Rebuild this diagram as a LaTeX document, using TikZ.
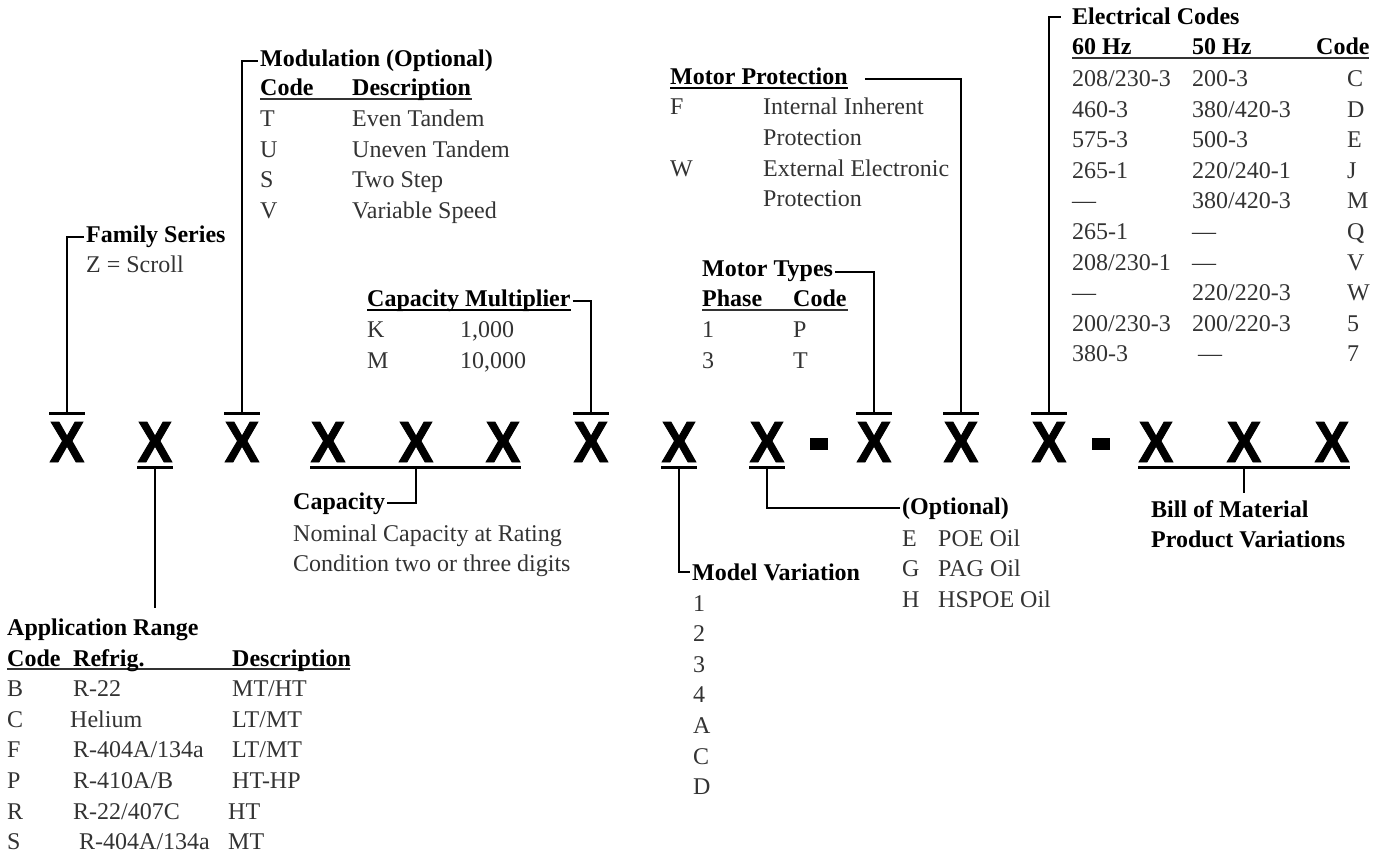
\documentclass[tikz,border=0pt]{standalone}
\usepackage{fontspec}
\setmainfont{Liberation Serif}
\newfontfamily\xfont{Liberation Sans}[BoldFeatures={FakeBold=1.5}]
\usepackage{graphicx}
\usetikzlibrary{positioning}
\definecolor{inkgray}{rgb}{0.2,0.2,0.2}
\newcommand{\hrul}[1]{\leavevmode\rlap{\rule[-4pt]{#1}{1.8pt}}}
\newcommand{\ultext}[1]{\sbox0{#1}\hrul{\wd0}\usebox0}
\newcommand{\hd}[1]{\leavevmode{\bfseries\color{black}#1}}
\tikzset{
  digit/.style={
    inner sep=0pt,
    anchor=base,
    font=\xfont\bfseries\fontsize{58}{58}\selectfont
  },
  head/.style={
    inner sep=2pt,
    anchor=base west,
    font=\bfseries\fontsize{24}{30.6}\selectfont
  },
  tbl/.style={
    inner sep=0pt,
    anchor=base west,
    text=inkgray,
    font=\fontsize{24}{30.6}\selectfont
  },
  lead/.style={line width=2pt},
  bar/.style={line width=3pt}
}

\begin{document}
\begin{tikzpicture}[x=1pt,y=-1pt]
\useasboundingbox (0,0) rectangle (1384,858);
% the model number
\foreach \n/\cx in {1/67,2/155,3/242,4/328,5/416,6/503,7/591,8/679,9/767,
                    10/874,11/961,12/1049,13/1156,14/1244,15/1332}
  \node[digit] (x\n) at (\cx,462) {\scalebox{0.9}[1]{X}};
\node[digit] (d1) at (819,462) {\scalebox{1.15}[1.5]{\raisebox{-3pt}{-}}};
\node[digit] (d2) at (1101,462) {\scalebox{1.15}[1.5]{\raisebox{-3pt}{-}}};
\foreach \n in {1,3,7,10,11,12}
  \draw[bar] ([yshift=8pt]x\n.north west) -- ([yshift=8pt]x\n.north east);
\foreach \n in {2,8,9}
  \draw[bar] ([yshift=-5pt]x\n.south west) -- ([yshift=-5pt]x\n.south east);
\draw[bar] ([yshift=-5pt]x4.south west) -- ([yshift=-5pt]x6.south east);
\draw[bar] ([yshift=-5pt]x13.south west) -- ([yshift=-5pt]x15.south east);

% upper labels
\node[head] (fam) at (84,243) {Family Series};
\node[tbl] (famtab) at (86,273) {Z = Scroll};
\draw[lead] ([yshift=8pt]x1.north) |- (fam.west);

\node[head] (modT) at (258,67) {Modulation (Optional)};
\node[tbl] (modtab) at (260,96) {\begin{tabular}[t]{@{}p{92pt}@{}l@{}}
  \hrul{212pt}\hd{Code} & \hd{Description}\\
  T & Even Tandem\\
  U & Uneven Tandem\\
  S & Two Step\\
  V & Variable Speed
\end{tabular}};
\draw[lead] ([yshift=8pt]x3.north) |- (modT.west);

\node[head] (cmT) at (365,307) {\ultext{Capacity Multiplier}};
\node[tbl] (cmtab) at (367,338) {\begin{tabular}[t]{@{}p{93pt}@{}l@{}}
  K & 1,000\\
  M & 10,000
\end{tabular}};
\draw[lead] (cmT.east) -| ([yshift=8pt]x7.north);

\node[head] (mtT) at (700,277) {Motor Types};
\node[tbl] (mttab) at (702,307) {\begin{tabular}[t]{@{}p{91pt}@{}l@{}}
  \hrul{146pt}\hd{Phase} & \hd{Code}\\
  1 & P\\
  3 & T
\end{tabular}};
\draw[lead] (mtT.east) -| ([yshift=8pt]x10.north);

\node[head] (mpT) at (668,85) {\ultext{Motor Protection}};
\node[tbl] (mptab) at (670,115) {\begin{tabular}[t]{@{}p{93pt}@{}l@{}}
  F & Internal Inherent\\
    & Protection\\
  W & External Electronic\\
    & Protection
\end{tabular}};
\draw[lead] ([xshift=15pt]mpT.east) -| ([yshift=8pt]x11.north);

\node[head] (ecT) at (1070,25) {Electrical Codes};
\node[tbl] (ectab) at (1072,55) {\begin{tabular}[t]{@{}p{120pt}@{}p{155pt}@{}l@{}}
  \hrul{297pt}\hd{60 Hz} & \hd{50 Hz} & \hspace*{-31pt}\hd{Code}\\[1pt]
  208/230-3 & 200-3 & C\\
  460-3 & 380/420-3 & D\\
  575-3 & 500-3 & E\\
  265-1 & 220/240-1 & J\\
  --- & 380/420-3 & M\\
  265-1 & --- & Q\\
  208/230-1 & --- & V\\
  --- & 220/220-3 & W\\
  200/230-3 & 200/220-3 & 5\\
  380-3 & \hspace*{6pt}--- & 7
\end{tabular}};
\draw[lead] ([yshift=8pt]x12.north) |- ([xshift=-9pt]ecT.west);

% lower labels
\node[head] (capT) at (291,509) {Capacity};
\node[tbl] (captab) at (293,541) {\begin{tabular}[t]{@{}l@{}}
  Nominal Capacity at Rating\\
  Condition two or three digits
\end{tabular}};
\draw[lead] ([yshift=-5pt]x5.south) |- (capT.east);

\node[head] (apT) at (5,635) {Application Range};
\node[tbl] (aptab) at (7,666) {\begin{tabular}[t]{@{}p{66pt}@{}p{159pt}@{}l@{}}
  \hrul{343pt}\hd{Code} & \hd{Refrig.} & \hd{Description}\\
  B & R-22 & MT/HT\\
  C & \hspace*{-3pt}Helium & LT/MT\\
  F & R-404A/134a & LT/MT\\
  P & R-410A/B & HT-HP\\
  R & R-22/407C & \hspace*{-4pt}HT\\
  S & \hspace*{6pt}R-404A/134a & \hspace*{-4pt}MT
\end{tabular}};
\draw[lead] ([yshift=-5pt]x2.south) -- ([yshift=8pt]x2 |- apT.north);

\node[head] (mvT) at (690,580) {Model Variation};
\node[tbl] (mvtab) at (693,611) {\begin{tabular}[t]{@{}l@{}}
  1\\ 2\\ 3\\ 4\\ A\\ C\\ D
\end{tabular}};
\draw[lead] ([yshift=-5pt]x8.south) |- (mvT.west);

\node[head] (opT) at (900,514) {(Optional)};
\node[tbl] (optab) at (902,546) {\begin{tabular}[t]{@{}p{36pt}@{}l@{}}
  E & POE Oil\\
  G & PAG Oil\\
  H & HSPOE Oil
\end{tabular}};
\draw[lead] ([yshift=-5pt]x9.south) |- (opT.west);

\node[head] (bmT) at (1149,517) {\begin{tabular}[t]{@{}l@{}}
  Bill of Material\\
  Product Variations
\end{tabular}};
\draw[lead] ([yshift=-5pt]x14.south) -- (x14 |- bmT.north);
\end{tikzpicture}
\end{document}
